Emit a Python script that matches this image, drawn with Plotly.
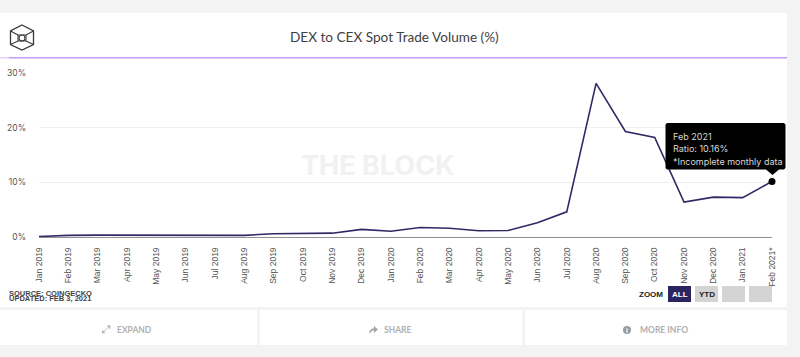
import plotly.graph_objects as go

months = ["Jan 2019","Feb 2019","Mar 2019","Apr 2019","May 2019","Jun 2019","Jul 2019","Aug 2019","Sep 2019","Oct 2019","Nov 2019","Dec 2019",
          "Jan 2020","Feb 2020","Mar 2020","Apr 2020","May 2020","Jun 2020","Jul 2020","Aug 2020","Sep 2020","Oct 2020","Nov 2020","Dec 2020",
          "Jan 2021","Feb 2021*"]
ratio = [0.1,0.3,0.35,0.35,0.25,0.3,0.35,0.3,0.6,0.65,0.7,1.4,1.05,1.75,1.6,1.15,1.2,2.6,4.6,28.1,19.3,18.2,6.4,7.3,7.2,10.16]
y_ticks = [0,10,20,30]
y_labels = ["0%","10%","20%","30%"]

W, H = 800, 357
L, R, T, B = 39, 772, 73, 237

def px(x): return (x-L)/(R-L)
def py(y): return (B-y)/(B-T)

shapes = []
def rect(x0,y0,x1,y1,color,layer="below"):
    shapes.append(dict(type="rect",xref="paper",yref="paper",x0=px(x0),x1=px(x1),y0=py(y0),y1=py(y1),
                       fillcolor=color,line_width=0,layer=layer))
def path(points,color=None,width=1.4,fill=None,close=False,layer="below"):
    d = "M"+" L".join(f"{px(x):.5f},{py(y):.5f}" for x,y in points)+(" Z" if close else "")
    shapes.append(dict(type="path",xref="paper",yref="paper",path=d,fillcolor=fill,
                       line=dict(color=color or "rgba(0,0,0,0)",width=width),layer=layer))

# page chrome
rect(0,0,800,357,"#f3f3f3")
rect(0,13,787,307,"#ffffff")
rect(0,310,257,345,"#ffffff")
rect(260,310,522,345,"#ffffff")
rect(525,310,787,345,"#ffffff")
rect(0,57,9,58.5,"#e6d3f8")
rect(9,57,787,58.5,"#c79cf0")

# logo
c = "#3a3a3a"
path([(22,25),(33.5,31),(33.5,44.5),(22,50),(10.5,44.5),(10.5,31)],c,1.3,close=True)
path([(10.5,31),(18,35),(26,35),(33.5,31)],c,1.2)
path([(10.5,44.5),(18,41),(26,41),(33.5,44.5)],c,1.2)
path([(18,35),(18,41)],c,1.1)
path([(26,35),(26,41)],c,1.1)
shapes.append(dict(type="circle",xref="paper",yref="paper",x0=px(19),x1=px(25),y0=py(41),y1=py(35),
                   fillcolor="rgba(0,0,0,0)",line=dict(color=c,width=1.1),layer="below"))

# zoom buttons
rect(668,286,691,302,"#2a2560")
rect(695,286,718,302,"#d4d4d4")
rect(722,286,745,302,"#d4d4d4")
rect(749,286,772,302,"#d4d4d4")

# tooltip
path([(667,123),(784,123),(785.5,124.5),(785.5,168),(784,169.5),(779,169.5),(772.5,175),(766,169.5),(667,169.5),(665.5,168),(665.5,124.5)],
     fill="#000000",width=0,close=True,layer="above")

# share icon
path([(369.5,334),(369.5,331),(372,328.5),(374,328.5),(374,326),(378,329.5),(374,333),(374,330.5),(372.5,330.5),(371,332)],fill="#a5a5a5",width=0,close=True)

# info icon
shapes.append(dict(type="circle",xref="paper",yref="paper",x0=px(623),x1=px(631),y0=py(334),y1=py(326),
                   fillcolor="#9b9b9b",line_width=0,layer="below"))

anns = []
def text(x,y,s,size,color,font="Inter",anchor="left",weight=None):
    anns.append(dict(xref="paper",yref="paper",x=px(x),y=py(y),text=s,showarrow=False,xanchor=anchor,yanchor="middle",
                     font=dict(family=font,size=size,color=color,weight=weight),borderpad=0))

text(394.5,37,"DEX to CEX Spot Trade Volume (%)",13.6,"#3f3f3f",font="Lato",anchor="center")
text(378,165,"THE BLOCK",27,"#f1f1f1",anchor="center",weight=700)
text(8,293,"SOURCE: COINGECKO",7.5,"#444444",font="Liberation Sans",weight=700)
text(8,298.5,"UPDATED: FEB 3, 2021",7.5,"#444444",font="Liberation Sans",weight=700)
text(664,294,"ZOOM",8,"#222222",font="Liberation Sans",anchor="right",weight=700)
text(679.5,294,"ALL",8,"#ffffff",font="Liberation Sans",anchor="center",weight=700)
text(706.5,294,"YTD",8,"#222222",font="Liberation Sans",anchor="center",weight=700)
text(134,330,"EXPAND",8.5,"#b0b0b0",font="Lato",anchor="center",weight=700)
text(398,330,"SHARE",8.5,"#b0b0b0",font="Lato",anchor="center",weight=700)
text(664,330,"MORE INFO",8.5,"#b0b0b0",font="Lato",anchor="center",weight=700)
text(106,329,"⤢",11,"#a5a5a5",font="DejaVu Sans",anchor="center")
text(627,330,"i",7,"#ffffff",font="Liberation Sans",anchor="center",weight=700)
text(672,136,"Feb 2021",9,"#d8d8d8")
text(672,148.5,"Ratio: 10.16%",9,"#d8d8d8")
text(672,161,"*Incomplete monthly data",9,"#d8d8d8")

fig = go.Figure()
fig.add_trace(go.Scatter(x=months,y=ratio,mode="lines",line=dict(color="#2e2a66",width=1.6),hoverinfo="skip",cliponaxis=False))
fig.add_trace(go.Scatter(x=months[-1:],y=ratio[-1:],mode="markers",marker=dict(color="#000000",size=7),hoverinfo="skip",cliponaxis=False))

fig.update_layout(
    width=W,height=H,margin=dict(l=L,r=W-R,t=T,b=H-B,autoexpand=False),autosize=False,
    paper_bgcolor="#ffffff",plot_bgcolor="rgba(0,0,0,0)",showlegend=False,shapes=shapes,annotations=anns,
    font=dict(family="Liberation Sans"),
    xaxis=dict(type="category",categoryorder="array",categoryarray=months,range=[0,25],tickangle=-90,tickvals=months,
               showgrid=False,zeroline=False,showline=True,linecolor="#8f8f8f",linewidth=1,ticks="",ticklabelstandoff=6,
               tickfont=dict(size=8.5,color="#555555",family="Liberation Sans")),
    yaxis=dict(range=[0,30],tickvals=y_ticks,ticktext=y_labels,gridcolor="#f0f0f0",gridwidth=1,zeroline=False,showline=False,
               ticks="",ticklabelstandoff=12,tickfont=dict(size=8.5,color="#555555",family="Inter")),
)
fig.write_html("out.html",config={"displayModeBar":False},post_script="document.body.style.margin='0';document.documentElement.style.overflow='hidden';")
